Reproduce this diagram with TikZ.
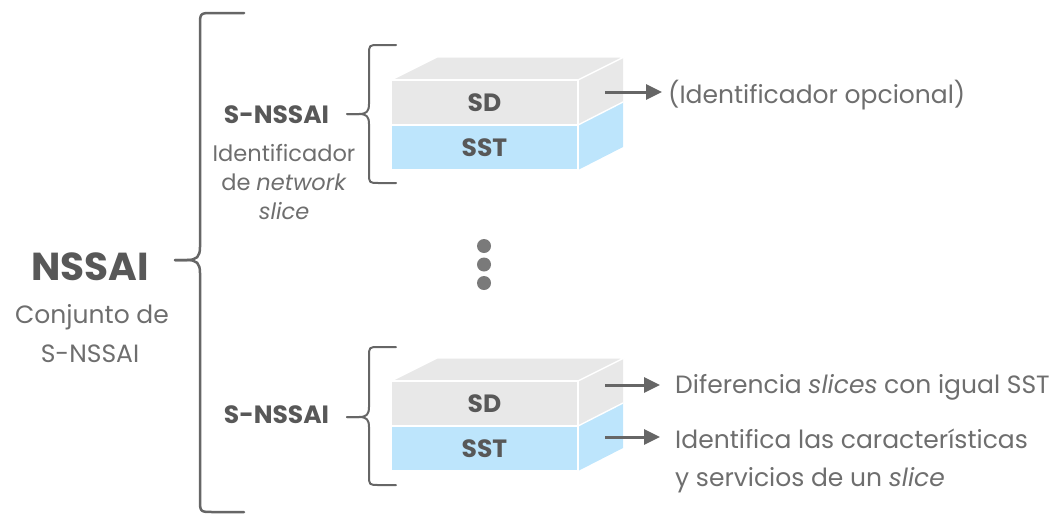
\documentclass[tikz,border=0pt]{standalone}
\usepackage{fontspec}
\setmainfont{Poppins}
\usetikzlibrary{arrows.meta}

\definecolor{txtgrey}{HTML}{6E6E6E}
\definecolor{darkgrey}{HTML}{585858}
\definecolor{linegrey}{HTML}{666666}
\definecolor{facegrey}{HTML}{E8E8E8}
\definecolor{faceblue}{HTML}{BDE5FC}
\definecolor{dotgrey}{HTML}{7A7A7A}

% curly brace opening to the right:
% [#1] extra style, #2 spine x, #3 top y, #4 cusp y, #5 bottom y,
% #6 arm tip x, #7 stem end x, #8 corner radius
\newcommand{\curlybrace}[8][]{%
  \draw[bracestroke,#1] (#6,#3) -- ({#2+#8},#3)
    .. controls (#2,#3) .. (#2,{#3+#8})
    -- (#2,{#4-#8}) .. controls (#2,{#4-0.25*#8}) and ({#2-0.25*#8},#4) .. ({#2-#8},#4)
    -- (#7,#4);
  \draw[bracestroke,#1] (#7,#4) -- ({#2-#8},#4)
    .. controls ({#2-0.25*#8},#4) and (#2,{#4+0.25*#8}) .. (#2,{#4+#8})
    -- (#2,{#5-#8}) .. controls (#2,#5) .. ({#2+#8},#5) -- (#6,#5);
}

\begin{document}
\begin{tikzpicture}[x=1pt,y=-1pt,
  txt/.style={text=txtgrey,inner sep=0pt,font=\fontsize{25}{28}\selectfont},
  lbl/.style={text=darkgrey,inner sep=0pt,font=\fontsize{25}{28}\selectfont\bfseries},
  face/.style={minimum width=187pt,minimum height=45pt,inner sep=0pt,
    draw=white,line width=1.4pt,text=darkgrey,font=\fontsize{25}{28}\selectfont\bfseries},
  edge/.style={draw=white,line width=1.4pt},
  bracestroke/.style={draw=linegrey,line width=2pt,line cap=round,line join=round},
  pointer/.style={draw=linegrey,line width=3pt,
    -{Triangle[length=16pt,width=15pt]}},
  dotmark/.style={circle,fill=dotgrey,minimum size=14pt,inner sep=0pt},
  pics/slicebox/.style={code={
    \fill[facegrey] (-93.5,-22.5) -- ++(46,-23) -- ++(187,0) -- (93.5,-22.5) -- cycle;
    \fill[facegrey] (93.5,-22.5) -- ++(45,-23) -- ++(0,45) -- (93.5,22.5) -- cycle;
    \fill[faceblue] (93.5,22.5) -- ++(45,-23) -- ++(0,45) -- (93.5,67.5) -- cycle;
    \node[face,fill=facegrey] (-sd) at (0,0) {SD};
    \node[face,fill=faceblue] (-sst) at (0,45) {SST};
    \draw[edge] (-93.5,-22.5) -- ++(46,-23) -- ++(187,0) -- (93.5,-22.5);
    \draw[edge] (93.5,22.5) -- ++(45,-23);
    \draw[edge] (93.5,-22.5) -- (93.5,67.5);
  }}
]
\useasboundingbox (0,0) rectangle (1062,517);

% left side: the whole set
\node[anchor=base,inner sep=0pt,text=darkgrey,
  font=\fontsize{39}{44}\selectfont\bfseries] (nssai) at (90,280) {NSSAI};
\node[txt,anchor=base] (conj) at (92,323) {Conjunto de};
\node[txt,anchor=base] (conjb) at (90,362) {S-NSSAI};
\curlybrace[line width=2.5pt]{200}{13}{260}{512}{244}{175}{13}

% upper S-NSSAI
\node[lbl,anchor=base] (snssai1) at (276.5,123) {S-NSSAI};
\node[txt,anchor=base,align=center,font=\fontsize{22.5}{29}\selectfont]
  (desc1) at (284,219) {Identificador\\de \textit{network}\\\textit{slice}};
\curlybrace{369}{45}{114}{183}{396}{347}{10}
\pic (box1) at (484.5,102.5) {slicebox};

% ellipsis between the two identifiers
\node[dotmark] (dot1) at (484,246) {};
\node[dotmark] (dot2) at (484,264.5) {};
\node[dotmark] (dot3) at (484,283) {};

% lower S-NSSAI
\node[lbl,anchor=base] (snssai2) at (276.5,423) {S-NSSAI};
\curlybrace{369}{347}{417}{485}{396}{347}{10}
\pic (box2) at (484.5,403.5) {slicebox};

% annotations
\coordinate (a1s) at (605,92);
\coordinate (a1e) at (662,92);
\node[txt,anchor=base west] (note1) at (668,103) {(Identificador opcional)};
\draw[pointer] (a1s) -- (a1e);

\coordinate (a2s) at (605,385);
\coordinate (a2e) at (660,385);
\node[txt,anchor=base west] (note2) at (675,393) {Diferencia \textit{slices} con igual SST};
\draw[pointer] (a2s) -- (a2e);

\coordinate (a3s) at (605,437);
\coordinate (a3e) at (660,437);
\node[txt,anchor=base west,align=left,font=\fontsize{25}{38}\selectfont] (note3) at (675,486)
  {Identifica las características\\y servicios de un \textit{slice}};
\draw[pointer] (a3s) -- (a3e);
\end{tikzpicture}
\end{document}
